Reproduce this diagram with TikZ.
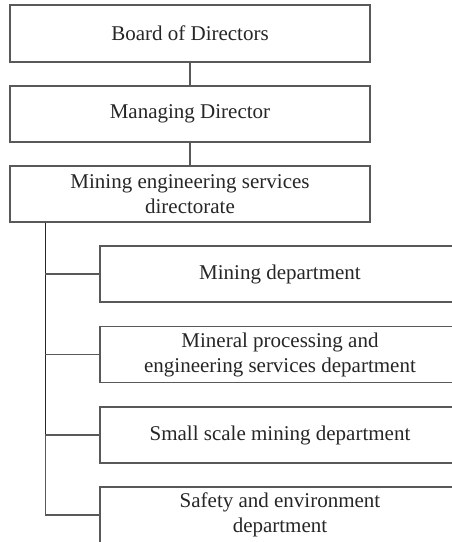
\documentclass[tikz,border=0pt]{standalone}
\usepackage{fontspec}
\setmainfont{Liberation Serif}
\begin{document}
\begin{tikzpicture}[x=1pt,y=1pt,
  orgbox/.style={draw=black!65, line width=1.3pt, minimum width=360pt,
    minimum height=56pt, inner sep=0pt, align=center,
    font=\fontsize{21}{25}\selectfont, text=black!85},
  link/.style={draw=black!65, line width=1.3pt}]
\useasboundingbox (0,0) rectangle (451,-542);
% upper chain of command
\node[orgbox, minimum height=57pt] (bod) at (190,-33.5) {Board of Directors};
\node[orgbox] (md) at (190,-114) {Managing Director};
\node[orgbox] (mesd) at (190,-194) {Mining engineering services\\directorate};
% departments
\node[orgbox] (d1) at (280,-274) {Mining department};
\node[orgbox] (d2) at (280,-354.5) {Mineral processing and\\engineering services department};
\node[orgbox] (d3) at (280,-435) {Small scale mining department};
\node[orgbox] (d4) at (280,-515) {Safety and environment\\department};
% connectors
\draw[link] (bod.south) -- (md.north);
\draw[link] (md.south) -- (mesd.north);
\coordinate (trunk) at ([xshift=36pt]mesd.south west);
\draw[link, draw=black!85] (trunk) -- (trunk |- d3.west);
\draw[link] (trunk |- d3.west) -- (trunk |- d4.west);
\draw[link] (trunk |- d1.west) -- (d1.west);
\draw[link] (trunk |- d2.west) -- (d2.west);
\draw[link] (trunk |- d3.west) -- (d3.west);
\draw[link] (trunk |- d4.west) -- (d4.west);
\end{tikzpicture}
\end{document}
